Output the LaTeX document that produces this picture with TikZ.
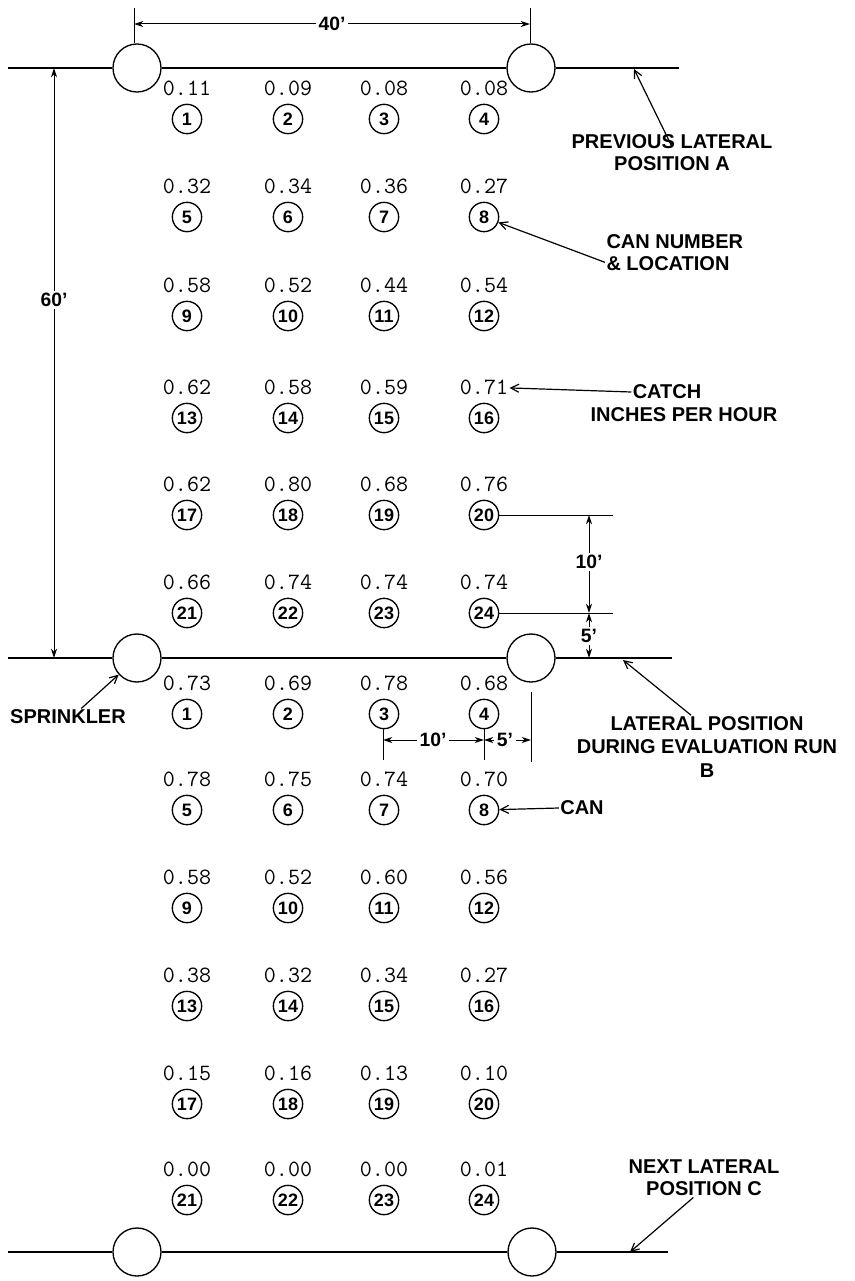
\documentclass[tikz,border=0pt]{standalone}
\usepackage{fontspec}
\setsansfont{Liberation Sans}
\usetikzlibrary{arrows.meta,positioning}
\tikzset{every picture/.style={line width=0.75pt}}
\tikzset{
  sprinkler/.style={draw, circle, minimum size=36pt, inner sep=0pt, line width=1pt},
  can/.style={draw, circle, minimum size=22pt, inner sep=0pt, line width=1pt, font=\sffamily\bfseries\fontsize{13.5}{13.5}\selectfont},
  catch/.style={font=\ttfamily\fontsize{17.5}{17.5}\selectfont, inner sep=0.75pt},
  note/.style={font=\sffamily\bfseries\fontsize{15}{16.5}\selectfont, align=center, inner sep=0.75pt},
  dimtxt/.style={font=\sffamily\bfseries\fontsize{14.5}{14.5}\selectfont, fill=white, inner sep=1.5pt},
  lateral/.style={line width=1pt},
  dimline/.style={-{Stealth[length=7pt,width=4.5pt]}},
  pointer/.style={-{Straight Barb[length=6pt,width=6pt]}, line width=0.9pt}
}

\begin{document}
\begin{tikzpicture}[x=0.75pt,y=0.75pt,yscale=-1,xscale=1]
\useasboundingbox (0,0) rectangle (854,1281);

%Lateral lines with sprinklers
\coordinate (lAw) at (8,68);
\coordinate (lAe) at (679,68);
\node [sprinkler] (sA1) at (137,68) {};
\node [sprinkler] (sA2) at (531,68) {};
\draw [lateral] (lAw) -- (sA1) -- (sA2) -- (lAe);
\coordinate (lBw) at (8,658);
\coordinate (lBe) at (672,658);
\node [sprinkler] (sB1) at (137,658) {};
\node [sprinkler] (sB2) at (531,658) {};
\draw [lateral] (lBw) -- (sB1) -- (sB2) -- (lBe);
\coordinate (lCw) at (8,1252);
\coordinate (lCe) at (668,1252);
\node [sprinkler] (sC1) at (137,1252) {};
\node [sprinkler] (sC2) at (532,1252) {};
\draw [lateral] (lCw) -- (sC1) -- (sC2) -- (lCe);

%Cans between A and B
\node [can] (a1) at (187,119) {1};
\node [can] (a2) at (288,119) {2};
\node [can] (a3) at (384,119) {3};
\node [can] (a4) at (484,119) {4};
\node [can] (a5) at (187,217) {5};
\node [can] (a6) at (288,217) {6};
\node [can] (a7) at (384,217) {7};
\node [can] (a8) at (484,217) {8};
\node [can] (a9) at (187,316) {9};
\node [can] (a10) at (288,316) {10};
\node [can] (a11) at (384,316) {11};
\node [can] (a12) at (484,316) {12};
\node [can] (a13) at (187,418) {13};
\node [can] (a14) at (288,418) {14};
\node [can] (a15) at (384,418) {15};
\node [can] (a16) at (484,418) {16};
\node [can] (a17) at (187,515) {17};
\node [can] (a18) at (288,515) {18};
\node [can] (a19) at (384,515) {19};
\node [can] (a20) at (484,515) {20};
\node [can] (a21) at (187,613) {21};
\node [can] (a22) at (288,613) {22};
\node [can] (a23) at (384,613) {23};
\node [can] (a24) at (484,613) {24};

% Catch values A
\node [catch, above=5pt of a1] (av1) {0.11};
\node [catch, above=5pt of a2] (av2) {0.09};
\node [catch, above=5pt of a3] (av3) {0.08};
\node [catch, above=5pt of a4] (av4) {0.08};
\node [catch, above=5pt of a5] (av5) {0.32};
\node [catch, above=5pt of a6] (av6) {0.34};
\node [catch, above=5pt of a7] (av7) {0.36};
\node [catch, above=5pt of a8] (av8) {0.27};
\node [catch, above=5pt of a9] (av9) {0.58};
\node [catch, above=5pt of a10] (av10) {0.52};
\node [catch, above=5pt of a11] (av11) {0.44};
\node [catch, above=5pt of a12] (av12) {0.54};
\node [catch, above=5pt of a13] (av13) {0.62};
\node [catch, above=5pt of a14] (av14) {0.58};
\node [catch, above=5pt of a15] (av15) {0.59};
\node [catch, above=5pt of a16] (av16) {0.71};
\node [catch, above=5pt of a17] (av17) {0.62};
\node [catch, above=5pt of a18] (av18) {0.80};
\node [catch, above=5pt of a19] (av19) {0.68};
\node [catch, above=5pt of a20] (av20) {0.76};
\node [catch, above=5pt of a21] (av21) {0.66};
\node [catch, above=5pt of a22] (av22) {0.74};
\node [catch, above=5pt of a23] (av23) {0.74};
\node [catch, above=5pt of a24] (av24) {0.74};

%Cans between B and C
\node [can] (b1) at (187,714) {1};
\node [can] (b2) at (288,714) {2};
\node [can] (b3) at (384,714) {3};
\node [can] (b4) at (484,714) {4};
\node [can] (b5) at (187,810) {5};
\node [can] (b6) at (288,810) {6};
\node [can] (b7) at (384,810) {7};
\node [can] (b8) at (484,810) {8};
\node [can] (b9) at (187,908) {9};
\node [can] (b10) at (288,908) {10};
\node [can] (b11) at (384,908) {11};
\node [can] (b12) at (484,908) {12};
\node [can] (b13) at (187,1006) {13};
\node [can] (b14) at (288,1006) {14};
\node [can] (b15) at (384,1006) {15};
\node [can] (b16) at (484,1006) {16};
\node [can] (b17) at (187,1104) {17};
\node [can] (b18) at (288,1104) {18};
\node [can] (b19) at (384,1104) {19};
\node [can] (b20) at (484,1104) {20};
\node [can] (b21) at (187,1200) {21};
\node [can] (b22) at (288,1200) {22};
\node [can] (b23) at (384,1200) {23};
\node [can] (b24) at (484,1200) {24};

% Catch values B
\node [catch, above=5pt of b1] (bv1) {0.73};
\node [catch, above=5pt of b2] (bv2) {0.69};
\node [catch, above=5pt of b3] (bv3) {0.78};
\node [catch, above=5pt of b4] (bv4) {0.68};
\node [catch, above=5pt of b5] (bv5) {0.78};
\node [catch, above=5pt of b6] (bv6) {0.75};
\node [catch, above=5pt of b7] (bv7) {0.74};
\node [catch, above=5pt of b8] (bv8) {0.70};
\node [catch, above=5pt of b9] (bv9) {0.58};
\node [catch, above=5pt of b10] (bv10) {0.52};
\node [catch, above=5pt of b11] (bv11) {0.60};
\node [catch, above=5pt of b12] (bv12) {0.56};
\node [catch, above=5pt of b13] (bv13) {0.38};
\node [catch, above=5pt of b14] (bv14) {0.32};
\node [catch, above=5pt of b15] (bv15) {0.34};
\node [catch, above=5pt of b16] (bv16) {0.27};
\node [catch, above=5pt of b17] (bv17) {0.15};
\node [catch, above=5pt of b18] (bv18) {0.16};
\node [catch, above=5pt of b19] (bv19) {0.13};
\node [catch, above=5pt of b20] (bv20) {0.10};
\node [catch, above=5pt of b21] (bv21) {0.00};
\node [catch, above=5pt of b22] (bv22) {0.00};
\node [catch, above=5pt of b23] (bv23) {0.00};
\node [catch, above=5pt of b24] (bv24) {0.01};

%Dimension 40'
\coordinate (x40l) at (134,8);
\coordinate (x40r) at (530,8);
\draw (x40l) -- (x40l |- sA1.north);
\draw (x40r) -- (x40r |- sA2.north);
\node [dimtxt] (d40) at (332,24) {40'};
\draw [dimline] (d40) -- (x40l |- d40);
\draw [dimline] (d40) -- (x40r |- d40);

%Dimension 60'
\node [dimtxt] (d60) at (54,300) {60'};
\draw [dimline] (d60) -- (d60 |- lAw);
\draw [dimline] (d60) -- (d60 |- lBw);

%Dimensions 10' and 5' (rows)
\coordinate (x20) at (613,515);
\coordinate (x24) at (613,613);
\draw (a20) -- (x20);
\draw (a24) -- (x24);
\node [dimtxt] (d10) at (589,562) {10'};
\draw [dimline] (d10) -- (d10 |- x20);
\draw [dimline] (d10) -- (d10 |- x24);
\node [dimtxt] (d5) at (589,636) {5'};
\draw [dimline] (d5) -- (d5 |- x24);
\draw [dimline] (d5) -- (d5 |- lBe);

%Dimensions 10' and 5' (columns)
\coordinate (t3a) at (383,729);
\coordinate (t3) at (383,760);
\coordinate (t5) at (531,762);
\draw (t3a) -- (t3);
\draw (b4.south) -- (b4.south |- t3);
\draw [shorten <=7pt] (sB2.south) -- (t5);
\node [dimtxt] (dh10) at (433,740) {10'};
\node [dimtxt] (dh5) at (505,740) {5'};
\draw [dimline] (dh10) -- (dh10 -| t3a);
\draw [dimline] (dh10) -- (dh10 -| b4);
\draw [dimline] (dh5) -- (dh5 -| b4);
\draw [dimline] (dh5) -- (dh5 -| t5);

% Text Node
\node [note] (txtA) at (672,153) {PREVIOUS LATERAL\\POSITION A};
\coordinate (pA) at (634,69);
\draw [pointer] ([yshift=10pt]txtA.north) -- (pA);
% Text Node
\node [note, align=left, anchor=west] (txtCan) at (605,253) {CAN NUMBER\\\& LOCATION};
\draw [pointer] ([yshift=7pt]txtCan.west) -- (a8);
% Text Node
\node [note] (txtCatch) at (667,392) {CATCH};
\node [note] (txtIph) at (684,415) {INCHES PER HOUR};
\draw [pointer] (txtCatch.west) -- (av16);
% Text Node
\node [note, font=\sffamily\bfseries\fontsize{15}{17.5}\selectfont] (txtB) at (707,747) {LATERAL POSITION\\DURING EVALUATION RUN\\B};
\coordinate (pB) at (623,660);
\draw [pointer] ([xshift=-12pt]txtB.north) -- (pB);
% Text Node
\node [note] (txtSpr) at (68,717) {SPRINKLER};
\draw [pointer] ([xshift=10pt]txtSpr.north) -- (sB1);
% Text Node
\node [note] (txtCanB) at (582,808) {CAN};
\draw [pointer] (txtCanB.west) -- (b8);
% Text Node
\node [note] (txtC) at (704,1178) {NEXT LATERAL\\POSITION C};
\coordinate (pC) at (630,1252);
\draw [pointer] ([xshift=-8pt]txtC.south) -- (pC);

\end{tikzpicture}
\end{document}
